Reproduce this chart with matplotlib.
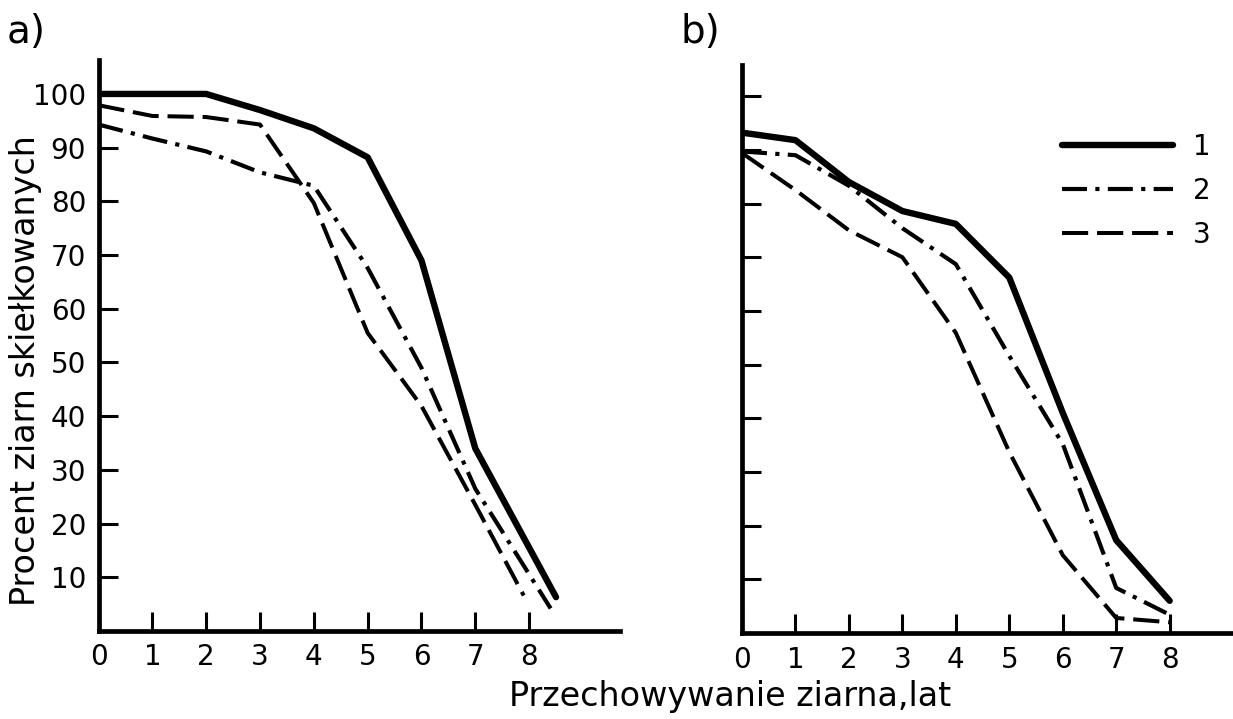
import matplotlib
matplotlib.use("Agg")
import matplotlib.pyplot as plt

# values
years = [0, 1, 2, 3, 4, 5, 6, 7, 8]
y_ticks = [10, 20, 30, 40, 50, 60, 70, 80, 90, 100]
legend_labels = ["1", "2", "3"]

# panel a)
a1_x = [0, 1, 2, 3, 4, 5, 6, 7, 8.5]
a1_y = [100, 100, 100, 97, 93.6, 88.2, 69, 34, 6.3]
a2_x = [0, 1, 2, 3, 4, 5, 6, 7, 8.4]
a2_y = [94.3, 91.7, 89.3, 85.4, 82.9, 67.6, 49, 26.5, 4.2]
a3_x = [0, 1, 2, 3, 4, 5, 6, 7, 7.9]
a3_y = [97.9, 95.9, 95.7, 94.3, 79.7, 55.5, 41.9, 23.5, 6.6]

# panel b)
b1_x = [0, 1, 2, 3, 4, 5, 6, 7, 8]
b1_y = [93.2, 91.8, 84, 78.6, 76.2, 66.2, 41, 17.3, 6.0]
b2_x = [0, 1, 2, 3, 4, 5, 6, 7, 8]
b2_y = [89.7, 89, 83.3, 75.4, 68.7, 51.6, 35.2, 8.4, 3.4]
b3_x = [0, 1, 2, 3, 4, 5, 6, 7, 8]
b3_y = [89.4, 82.5, 75, 70, 55.9, 33.7, 14.5, 2.8, 2.0]

plt.rcParams['font.family'] = ['DejaVu Sans']

fig = plt.figure(figsize=(12.33, 7.19), dpi=100)
ax_a = fig.add_axes([0.0799, 0.1224, 0.423, 0.794])
ax_b = fig.add_axes([0.6018, 0.1196, 0.398, 0.790])

solid = dict(color='black', lw=4.6, solid_capstyle='round', solid_joinstyle='round')
dashdot = dict(color='black', lw=3.0, dashes=(6.0, 2.0, 1.0, 2.0), dash_capstyle='butt')
dashed = dict(color='black', lw=2.9, dashes=(6.5, 2.2), dash_capstyle='butt')

ax_a.plot(a1_x, a1_y, **solid)
ax_a.plot(a2_x, a2_y, **dashdot)
ax_a.plot(a3_x, a3_y, **dashed)

l1, = ax_b.plot(b1_x, b1_y, **solid)
l2, = ax_b.plot(b2_x, b2_y, **dashdot)
l3, = ax_b.plot(b3_x, b3_y, **dashed)

for ax, xmax, ymax in [(ax_a, 9.69, 106.3), (ax_b, 9.18, 105.8)]:
    ax.set_xlim(0, xmax)
    ax.set_ylim(0, ymax)
    for s in ['top', 'right']:
        ax.spines[s].set_visible(False)
    for s in ['left', 'bottom']:
        ax.spines[s].set_linewidth(3.4)
    ax.set_xticks(years)
    ax.set_yticks(y_ticks)
    ax.tick_params(direction='in', length=14, width=2.2, pad=9, labelsize=20)

ax_b.set_yticklabels([])

fig.text(0.021, 0.485, "Procent ziarn skiełkowanych", fontsize=24,
         rotation=90, ha='center', va='center')
fig.text(0.592, 0.031, "Przechowywanie ziarna,lat", fontsize=24, ha='center', va='center')

fig.text(0.005, 0.955, "a)", fontsize=28, ha='left', va='center')
fig.text(0.552, 0.955, "b)", fontsize=28, ha='left', va='center')

leg = ax_b.legend([l1, l2, l3], legend_labels, loc='upper left',
                  bbox_to_anchor=(0.63, 0.90), frameon=False,
                  handlelength=4.0, handletextpad=0.7, labelspacing=0.58,
                  prop={'size': 20}, borderaxespad=0)

fig.savefig('out.png', dpi=100)
